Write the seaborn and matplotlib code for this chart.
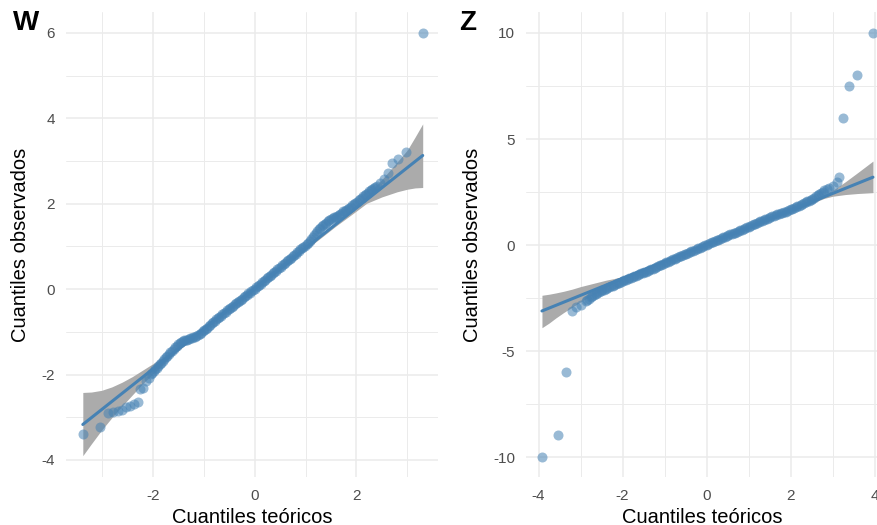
import numpy as np
import pandas as pd
import matplotlib
matplotlib.use("Agg")
import matplotlib.pyplot as plt
import seaborn as sns

# Panel W: cuantiles teóricos / observados
W_TEO = [-3.37, -3.03, -2.87, -2.77, -2.67, -2.60, -2.52, -2.44, -2.36, -2.29,
         -2.25, -2.18, -2.13, -2.08,
         -2.04, -1.98, -1.92, -1.86, -1.80, -1.74, -1.68, -1.62, -1.56, -1.50,
         -1.44, -1.38, -1.32, -1.26, -1.20, -1.14, -1.08, -1.02, -0.96, -0.90,
         -0.84, -0.78, -0.72, -0.66, -0.60, -0.54, -0.48, -0.42, -0.36, -0.30,
         -0.24, -0.18, -0.12, -0.06, 0.00, 0.06, 0.12, 0.18, 0.24, 0.30,
         0.36, 0.42, 0.48, 0.54, 0.60, 0.66, 0.72, 0.78, 0.84, 0.90,
         0.96, 1.02, 1.08, 1.14, 1.20, 1.26, 1.32, 1.38, 1.44, 1.50,
         1.56, 1.62, 1.68, 1.74, 1.80, 1.86, 1.92, 1.98, 2.04, 2.10,
         2.16, 2.22, 2.28, 2.34, 2.40,
         2.46, 2.54, 2.62, 2.70, 2.82, 2.98, 3.30]
W_OBS = [-3.39, -3.22, -2.89, -2.87, -2.85, -2.83, -2.75, -2.73, -2.69, -2.64,
         -2.34, -2.32, -2.16, -2.08,
         -1.99, -1.92, -1.84, -1.76, -1.68, -1.60, -1.52, -1.44, -1.36, -1.29,
         -1.23, -1.20, -1.18, -1.15, -1.12, -1.09, -1.05, -0.99, -0.93, -0.86,
         -0.80, -0.74, -0.68, -0.62, -0.56, -0.50, -0.44, -0.39, -0.33, -0.27,
         -0.22, -0.16, -0.10, -0.05, 0.01, 0.07, 0.13, 0.19, 0.25, 0.31,
         0.37, 0.43, 0.49, 0.56, 0.62, 0.68, 0.74, 0.80, 0.86, 0.93,
         0.99, 1.06, 1.13, 1.21, 1.31, 1.40, 1.47, 1.53, 1.59, 1.64,
         1.68, 1.72, 1.77, 1.82, 1.86, 1.90, 1.96, 2.02, 2.08, 2.14,
         2.20, 2.26, 2.32, 2.37, 2.42,
         2.48, 2.58, 2.73, 2.95, 3.05, 3.21, 6.00]
# puntos intermedios del tramo denso de W
W_TEO_DENSO = [-2.01, -1.95, -1.89, -1.83, -1.77, -1.71, -1.65, -1.59, -1.53, -1.47,
               -1.41, -1.35, -1.29, -1.23, -1.17, -1.11, -1.05, -0.99, -0.93, -0.87,
               -0.81, -0.75, -0.69, -0.63, -0.57, -0.51, -0.45, -0.39, -0.33, -0.27,
               -0.21, -0.15, -0.09, -0.03, 0.03, 0.09, 0.15, 0.21, 0.27, 0.33,
               0.39, 0.45, 0.51, 0.57, 0.63, 0.69, 0.75, 0.81, 0.87, 0.93,
               0.99, 1.05, 1.11, 1.17, 1.23, 1.29, 1.35, 1.41, 1.47, 1.53,
               1.59, 1.65, 1.71, 1.77, 1.83, 1.89, 1.95, 2.01, 2.07, 2.13,
               2.19, 2.25, 2.31, 2.37]
W_OBS_DENSO = [-1.96, -1.88, -1.80, -1.72, -1.64, -1.56, -1.48, -1.40, -1.33, -1.26,
               -1.22, -1.19, -1.17, -1.14, -1.11, -1.07, -1.02, -0.96, -0.90, -0.83,
               -0.77, -0.71, -0.65, -0.59, -0.53, -0.47, -0.42, -0.36, -0.30, -0.25,
               -0.19, -0.13, -0.08, -0.02, 0.04, 0.10, 0.16, 0.22, 0.28, 0.34,
               0.40, 0.46, 0.52, 0.59, 0.65, 0.71, 0.77, 0.83, 0.89, 0.96,
               1.02, 1.09, 1.17, 1.26, 1.35, 1.43, 1.50, 1.56, 1.61, 1.66,
               1.70, 1.74, 1.79, 1.84, 1.88, 1.93, 1.99, 2.05, 2.11, 2.17,
               2.23, 2.29, 2.34, 2.40]
W_LINEA_X = [-3.37, 3.30]
W_LINEA_Y = [-3.17, 3.13]
W_BANDA_X = [-3.37, -3.20, -3.00, -2.80, -2.60, -2.40, -2.20, -2.00, -1.80, -1.60,
             -1.20, 0.00, 1.20, 1.60, 2.00, 2.20, 2.50, 2.80, 3.00, 3.15, 3.30]
W_BANDA_INF = [-3.90, -3.62, -3.30, -3.01, -2.74, -2.48, -2.22, -1.99, -1.76, -1.54,
               -1.155, -0.02, 1.105, 1.48, 1.83, 2.01, 2.16, 2.28, 2.34, 2.37, 2.38]
W_BANDA_SUP = [-2.42, -2.41, -2.37, -2.29, -2.18, -2.05, -1.90, -1.75, -1.61, -1.45,
               -1.085, 0.04, 1.175, 1.57, 1.98, 2.19, 2.57, 2.98, 3.26, 3.56, 3.87]

# Panel Z
Z_TEO = [-3.91, -3.54, -3.35, -3.21, -3.11, -2.99,
         -2.88, -2.80, -2.72, -2.64, -2.56, -2.48, -2.40, -2.32, -2.24, -2.16,
         -2.08, -2.00, -1.92, -1.84, -1.76, -1.68, -1.60, -1.52, -1.44, -1.36,
         -1.28, -1.20, -1.12, -1.04, -0.96, -0.88, -0.80, -0.72, -0.64, -0.56,
         -0.48, -0.40, -0.32, -0.24, -0.16, -0.08, 0.00, 0.08, 0.16, 0.24,
         0.32, 0.40, 0.48, 0.56, 0.64, 0.72, 0.80, 0.88, 0.96, 1.04,
         1.12, 1.20, 1.28, 1.36, 1.44, 1.52, 1.60, 1.68, 1.76, 1.84,
         1.92, 2.00, 2.08, 2.16, 2.24, 2.32, 2.40, 2.48, 2.56, 2.64,
         2.72, 2.80, 2.92,
         3.01, 3.10, 3.16, 3.25, 3.39, 3.57, 3.96]
Z_OBS = [-10.00, -8.98, -5.99, -3.11, -2.94, -2.82,
         -2.64, -2.53, -2.42, -2.32, -2.23, -2.14, -2.06, -1.98, -1.91, -1.84,
         -1.77, -1.70, -1.64, -1.57, -1.51, -1.45, -1.38, -1.31, -1.25, -1.18,
         -1.11, -1.04, -0.96, -0.89, -0.82, -0.75, -0.68, -0.61, -0.54, -0.47,
         -0.40, -0.33, -0.26, -0.19, -0.12, -0.05, 0.02, 0.09, 0.16, 0.23,
         0.30, 0.36, 0.43, 0.50, 0.56, 0.63, 0.70, 0.76, 0.83, 0.90,
         0.97, 1.04, 1.11, 1.18, 1.25, 1.32, 1.38, 1.44, 1.50, 1.55,
         1.61, 1.68, 1.75, 1.83, 1.90, 1.98, 2.06, 2.14, 2.24, 2.34,
         2.45, 2.58, 2.70,
         2.80, 2.99, 3.22, 6.00, 7.50, 8.00, 10.00]
# puntos intermedios del tramo denso de Z
Z_TEO_DENSO = [-2.84, -2.76, -2.68, -2.60, -2.52, -2.44, -2.36, -2.28, -2.20, -2.12,
               -2.04, -1.96, -1.88, -1.80, -1.72, -1.64, -1.56, -1.48, -1.40, -1.32,
               -1.24, -1.16, -1.08, -1.00, -0.92, -0.84, -0.76, -0.68, -0.60, -0.52,
               -0.44, -0.36, -0.28, -0.20, -0.12, -0.04, 0.04, 0.12, 0.20, 0.28,
               0.36, 0.44, 0.52, 0.60, 0.68, 0.76, 0.84, 0.92, 1.00, 1.08,
               1.16, 1.24, 1.32, 1.40, 1.48, 1.56, 1.64, 1.72, 1.80, 1.88,
               1.96, 2.04, 2.12, 2.20, 2.28, 2.36, 2.44, 2.52, 2.60, 2.68,
               2.76, 2.86]
Z_OBS_DENSO = [-2.58, -2.47, -2.37, -2.27, -2.18, -2.10, -2.02, -1.94, -1.87, -1.80,
               -1.73, -1.67, -1.60, -1.54, -1.48, -1.41, -1.34, -1.28, -1.21, -1.14,
               -1.07, -1.00, -0.92, -0.85, -0.78, -0.71, -0.64, -0.57, -0.50, -0.43,
               -0.36, -0.29, -0.22, -0.15, -0.08, -0.01, 0.05, 0.12, 0.19, 0.26,
               0.33, 0.39, 0.46, 0.53, 0.59, 0.66, 0.73, 0.79, 0.86, 0.93,
               1.00, 1.07, 1.14, 1.21, 1.28, 1.35, 1.41, 1.47, 1.52, 1.58,
               1.64, 1.71, 1.79, 1.86, 1.94, 2.02, 2.10, 2.19, 2.29, 2.39,
               2.51, 2.64]
Z_LINEA_X = [-3.92, 3.96]
Z_LINEA_Y = [-3.11, 3.20]
Z_BANDA_X = [-3.92, -3.75, -3.59, -3.40, -3.20, -3.00, -2.80, -2.60, -2.40, -2.20,
             -2.00, -1.80, -1.50, 0.00, 1.50, 2.00, 2.40, 2.80, 3.00, 3.30, 3.60, 3.96]
Z_BANDA_INF = [-3.90, -3.68, -3.44, -3.18, -2.93, -2.68, -2.45, -2.23, -2.01, -1.81,
               -1.62, -1.45, -1.20, 0.00, 1.20, 1.59, 1.88, 2.20, 2.30, 2.38, 2.43, 2.47]
Z_BANDA_SUP = [-2.37, -2.32, -2.26, -2.18, -2.08, -1.96, -1.86, -1.76, -1.66, -1.58,
               -1.48, -1.36, -1.14, 0.06, 1.26, 1.68, 2.03, 2.37, 2.58, 2.98, 3.42, 3.96]

AZUL = "steelblue"
GRIS_BANDA = "#ABABAB"
GRID = "#EBEBEB"


def dibujar_qq(ax, teo, obs, linea_x, linea_y, banda_x, banda_inf, banda_sup,
               xlim, ylim, xmaj, xmin, ymaj, ymin):
    df = pd.DataFrame({"teo": teo, "obs": obs})
    df_linea = pd.DataFrame({"x": linea_x, "y": linea_y})

    ax.fill_between(banda_x, banda_inf, banda_sup, color=GRIS_BANDA, linewidth=0, zorder=2)
    sns.scatterplot(data=df, x="teo", y="obs", ax=ax, color=AZUL, alpha=0.55,
                    s=52, linewidth=0, zorder=3)
    sns.lineplot(data=df_linea, x="x", y="y", ax=ax, color=AZUL, linewidth=2.2,
                 zorder=4)

    ax.set_xlim(*xlim)
    ax.set_ylim(*ylim)
    ax.set_xticks(xmaj)
    ax.set_xticks(xmin, minor=True)
    ax.set_yticks(ymaj)
    ax.set_yticks(ymin, minor=True)
    ax.set_xticklabels([str(v) for v in xmaj])
    ax.set_yticklabels([str(v) for v in ymaj])
    ax.grid(True, which="major", color=GRID, linewidth=1.1)
    ax.grid(True, which="minor", color=GRID, linewidth=0.7)
    ax.set_axisbelow(True)
    for s in ax.spines.values():
        s.set_visible(False)
    ax.tick_params(which="both", length=0, labelsize=11, labelcolor="#4D4D4D")
    ax.tick_params(axis="x", pad=8.5)
    ax.tick_params(axis="y", pad=8)
    ax.set_xlabel("Cuantiles teóricos", fontsize=14.5, labelpad=3.5, color="black")
    ax.set_ylabel("Cuantiles observados", fontsize=14.5, labelpad=8, color="black")


sns.set_theme(style="white")
plt.rcParams["font.family"] = ["Liberation Sans", "DejaVu Sans"]
plt.rcParams["axes.unicode_minus"] = False
plt.rcParams["text.color"] = "black"

fig = plt.figure(figsize=(8.78, 5.25), dpi=100)
H, W = 525.0, 878.0
ax_w = fig.add_axes([66 / W, (H - 477) / H, (438 - 66) / W, (477 - 12) / H])
ax_z = fig.add_axes([526 / W, (H - 477) / H, (878 - 526) / W, (477 - 12) / H])

dibujar_qq(ax_w, W_TEO + W_TEO_DENSO, W_OBS + W_OBS_DENSO,
           W_LINEA_X, W_LINEA_Y, W_BANDA_X, W_BANDA_INF, W_BANDA_SUP,
           (-3.70, 3.60), (-4.40, 6.49), [-2, 0, 2], [-3, -1, 1, 3],
           [-4, -2, 0, 2, 4, 6], [-3, -1, 1, 3, 5])
dibujar_qq(ax_z, Z_TEO + Z_TEO_DENSO, Z_OBS + Z_OBS_DENSO,
           Z_LINEA_X, Z_LINEA_Y, Z_BANDA_X, Z_BANDA_INF, Z_BANDA_SUP,
           (-4.30, 4.08), (-10.94, 10.99), [-4, -2, 0, 2, 4], [-3, -1, 1, 3],
           [-10, -5, 0, 5, 10], [-7.5, -2.5, 2.5, 7.5])

fig.text(13 / W, 1 - 23 / H, "W", fontsize=20, fontweight="bold", va="center", ha="left")
fig.text(459 / W, 1 - 23 / H, "Z", fontsize=20, fontweight="bold", va="center", ha="left")

fig.savefig("out.png", dpi=100)
